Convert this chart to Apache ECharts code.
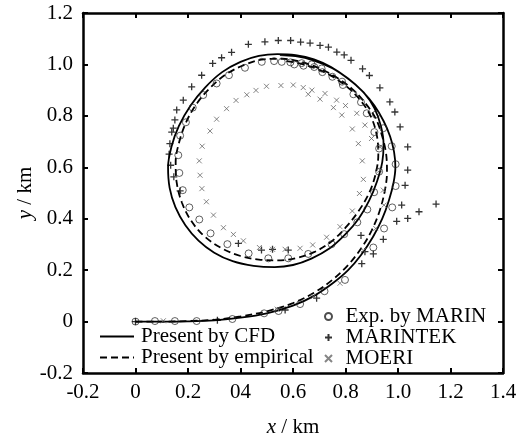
<!DOCTYPE html>
<html><head><meta charset="utf-8">
<script src="https://cdn.jsdelivr.net/npm/echarts@6/dist/echarts.min.js"></script>
<style>html,body{margin:0;padding:0;background:#fff}#c{width:524px;height:435px}</style>
</head><body><div id="c"></div>
<script>
var xTickLabels = ['-0.2','0','0.2','04','0.6','0.8','1.0','1.2','1.4'];
var yTickLabels = ['-0.2','0','0.2','0.4','0.6','0.8','1.0','1.2'];

var cfdPath = [[0,0],[0.1,0],[0.2,0.001],[0.3,0.005],[0.4,0.015],[0.5,0.032],[0.6,0.062],[0.68,0.1],[0.75,0.148],[0.81,0.2],[0.86,0.26],[0.905,0.33],[0.94,0.4],[0.965,0.47],[0.983,0.54],[0.99,0.6],[0.985,0.66],[0.97,0.72],[0.945,0.78],[0.91,0.84],[0.865,0.895],[0.81,0.945],[0.745,0.99],[0.68,1.02],[0.61,1.036],[0.54,1.04],[0.47,1.033],[0.4,1.01],[0.33,0.97],[0.265,0.91],[0.21,0.84],[0.165,0.76],[0.137,0.68],[0.124,0.6],[0.13,0.52],[0.152,0.445],[0.19,0.375],[0.24,0.315],[0.3,0.268],[0.37,0.235],[0.45,0.217],[0.53,0.212],[0.6,0.22],[0.67,0.245],[0.74,0.285],[0.8,0.34],[0.85,0.4],[0.89,0.47],[0.92,0.545],[0.94,0.62],[0.945,0.69],[0.935,0.76],[0.91,0.83],[0.87,0.89],[0.815,0.94],[0.75,0.985],[0.68,1.015],[0.61,1.032],[0.55,1.036]];

var empPath = [[0,0],[0.1,0],[0.2,0.002],[0.3,0.007],[0.4,0.02],[0.5,0.04],[0.6,0.072],[0.68,0.112],[0.75,0.162],[0.81,0.22],[0.86,0.285],[0.9,0.355],[0.93,0.43],[0.95,0.51],[0.958,0.58],[0.955,0.65],[0.94,0.72],[0.915,0.79],[0.875,0.85],[0.825,0.905],[0.765,0.95],[0.7,0.985],[0.63,1.01],[0.56,1.022],[0.49,1.02],[0.42,1.0],[0.35,0.965],[0.29,0.915],[0.235,0.85],[0.195,0.78],[0.167,0.7],[0.153,0.62],[0.157,0.54],[0.177,0.462],[0.212,0.392],[0.262,0.332],[0.33,0.284],[0.4,0.255],[0.47,0.241],[0.54,0.238],[0.61,0.246],[0.68,0.27],[0.745,0.31],[0.8,0.365],[0.85,0.43],[0.89,0.5],[0.915,0.575],[0.925,0.65],[0.92,0.72],[0.9,0.79],[0.865,0.85],[0.815,0.905],[0.755,0.95],[0.69,0.983],[0.62,1.005],[0.56,1.015]];

var marinPts = [[0,0],[0.074,0.002],[0.15,0.002],[0.233,0.002],[0.369,0.01],[0.49,0.032],[0.545,0.041],[0.627,0.068],[0.72,0.118],[0.798,0.162],[0.906,0.288],[0.947,0.362],[0.978,0.444],[0.991,0.527],[0.991,0.612],[0.976,0.682],[0.944,0.752],[0.916,0.805],[0.881,0.81],[0.859,0.853],[0.83,0.884],[0.787,0.933],[0.79,0.92],[0.75,0.952],[0.709,0.984],[0.712,0.97],[0.681,0.99],[0.671,1.0],[0.64,0.995],[0.633,1.005],[0.605,1.0],[0.59,1.008],[0.557,1.01],[0.528,1.013],[0.481,1.01],[0.417,0.987],[0.356,0.958],[0.309,0.926],[0.258,0.881],[0.218,0.832],[0.192,0.775],[0.17,0.723],[0.163,0.647],[0.167,0.578],[0.18,0.511],[0.205,0.444],[0.243,0.397],[0.286,0.343],[0.35,0.301],[0.431,0.265],[0.506,0.246],[0.582,0.246],[0.658,0.263],[0.747,0.301],[0.795,0.34],[0.845,0.386],[0.883,0.436],[0.909,0.503],[0.928,0.583],[0.928,0.673],[0.91,0.737]];

var marintekPts = [[0,0],[0.312,0.005],[0.57,0.045],[0.69,0.091],[0.862,0.225],[0.874,0.272],[0.906,0.263],[0.859,0.335],[0.944,0.32],[0.995,0.39],[1.037,0.401],[1.08,0.427],[1.145,0.457],[1.014,0.453],[1.027,0.53],[1.037,0.589],[1.037,0.679],[1.008,0.757],[0.988,0.815],[0.969,0.854],[0.931,0.909],[0.891,0.957],[0.865,0.983],[0.821,1.016],[0.795,1.037],[0.767,1.048],[0.735,1.067],[0.703,1.074],[0.665,1.083],[0.629,1.087],[0.591,1.093],[0.544,1.093],[0.493,1.088],[0.43,1.078],[0.366,1.047],[0.328,1.026],[0.294,1.004],[0.252,0.958],[0.214,0.913],[0.182,0.861],[0.157,0.823],[0.15,0.784],[0.144,0.752],[0.138,0.737],[0.131,0.692],[0.128,0.651],[0.134,0.608],[0.146,0.563],[0.17,0.508],[0.392,0.304],[0.48,0.278],[0.522,0.281],[0.582,0.278]];

var moeriPts = [[0.106,0.003],[0.54,0.048],[0.677,0.097],[0.779,0.149],[0.868,0.276],[0.915,0.362],[0.947,0.453],[0.944,0.511],[0.931,0.589],[0.931,0.679],[0.899,0.712],[0.874,0.764],[0.843,0.81],[0.8,0.84],[0.766,0.861],[0.722,0.887],[0.672,0.9],[0.639,0.91],[0.601,0.92],[0.554,0.918],[0.499,0.915],[0.459,0.899],[0.424,0.882],[0.383,0.86],[0.347,0.828],[0.309,0.787],[0.284,0.741],[0.254,0.682],[0.243,0.625],[0.246,0.569],[0.253,0.517],[0.27,0.466],[0.297,0.414],[0.335,0.365],[0.373,0.339],[0.411,0.314],[0.472,0.288],[0.522,0.281],[0.57,0.281],[0.627,0.285],[0.675,0.298],[0.728,0.328],[0.779,0.369],[0.826,0.43],[0.853,0.498],[0.868,0.553],[0.864,0.625],[0.849,0.692],[0.826,0.749],[0.786,0.803],[0.754,0.832],[0.703,0.865],[0.658,0.884]];

var FONT = 'Liberation Serif';
var PLUS = 'path://M0,5L10,5M5,0L5,10';
var CROSS = 'path://M0,0L10,10M10,0L0,10';

function axisCommon(extra) {
  var o = {
    type: 'value',
    axisLine: {show: true, onZero: false, lineStyle: {color: '#000', width: 2.5}},
    axisTick: {show: true, inside: true, length: 5, lineStyle: {color: '#000', width: 2}},
    splitLine: {show: false}
  };
  for (var k in extra) o[k] = extra[k];
  return o;
}

var chart = echarts.init(document.getElementById('c'), null, {renderer: 'canvas'});
chart.setOption({
  animation: false,
  backgroundColor: '#fff',
  grid: {left: 83, top: 13, width: 420, height: 360, containLabel: false, outerBoundsMode: 'none'},
  xAxis: [
    axisCommon({min: -0.2, max: 1.4, interval: 0.2, position: 'bottom',
      axisLabel: {color: '#000', fontFamily: FONT, fontSize: 21, margin: 9,
        formatter: function (v, i) { return xTickLabels[i]; }},
      name: '{i|x} / km', nameLocation: 'middle', nameGap: 44,
      nameTextStyle: {color: '#000', fontFamily: FONT, fontSize: 21,
        rich: {i: {fontStyle: 'italic', fontFamily: FONT, fontSize: 21, color: '#000'}}}}),
    axisCommon({min: -0.2, max: 1.4, interval: 0.2, position: 'top', axisLabel: {show: false}})
  ],
  yAxis: [
    axisCommon({min: -0.2, max: 1.2, interval: 0.2, position: 'left',
      axisLabel: {color: '#000', fontFamily: FONT, fontSize: 21, margin: 10,
        formatter: function (v, i) { return yTickLabels[i]; }},
      name: '{i|y} / km', nameLocation: 'middle', nameGap: 47, nameMoveOverlap: false,
      nameTextStyle: {color: '#000', fontFamily: FONT, fontSize: 21,
        rich: {i: {fontStyle: 'italic', fontFamily: FONT, fontSize: 21, color: '#000'}}}}),
    axisCommon({min: -0.2, max: 1.2, interval: 0.2, position: 'right', axisLabel: {show: false}})
  ],
  legend: [
    {orient: 'vertical', left: 94, top: 321, itemWidth: 34, itemHeight: 14, itemGap: 0,
      itemStyle: {opacity: 0},
      data: ['Present by CFD', 'Present by empirical'],
      textStyle: {color: '#000', fontFamily: FONT, fontSize: 21, lineHeight: 21, padding: [0,0,0,2]}},
    {orient: 'vertical', left: 319, top: 301, itemWidth: 24, itemHeight: 7, itemGap: 0,
      data: ['Exp. by MARIN', 'MARINTEK', 'MOERI'],
      textStyle: {color: '#000', fontFamily: FONT, fontSize: 21, lineHeight: 21}}
  ],
  series: [
    {name: 'Present by CFD', type: 'line', data: cfdPath, smooth: 0.35, symbol: 'none',
      lineStyle: {color: '#000', width: 1.8, type: 'solid'}, itemStyle: {color: '#000'}, z: 3},
    {name: 'Present by empirical', type: 'line', data: empPath, smooth: 0.35, symbol: 'none',
      lineStyle: {color: '#000', width: 1.8, type: [7, 4]}, itemStyle: {color: '#000'}, z: 3},
    {name: 'Exp. by MARIN', type: 'scatter', data: marinPts, symbol: 'circle', symbolSize: 7,
      itemStyle: {color: 'transparent', borderColor: '#222', borderWidth: 0.9}, z: 4},
    {name: 'MARINTEK', type: 'scatter', data: marintekPts, symbol: PLUS, symbolSize: 7,
      itemStyle: {color: 'transparent', borderColor: '#000', borderWidth: 1.3}, z: 4},
    {name: 'MOERI', type: 'scatter', data: moeriPts, symbol: CROSS, symbolSize: 5,
      itemStyle: {color: 'transparent', borderColor: '#666', borderWidth: 1}, z: 4}
  ]
});
</script></body></html>
